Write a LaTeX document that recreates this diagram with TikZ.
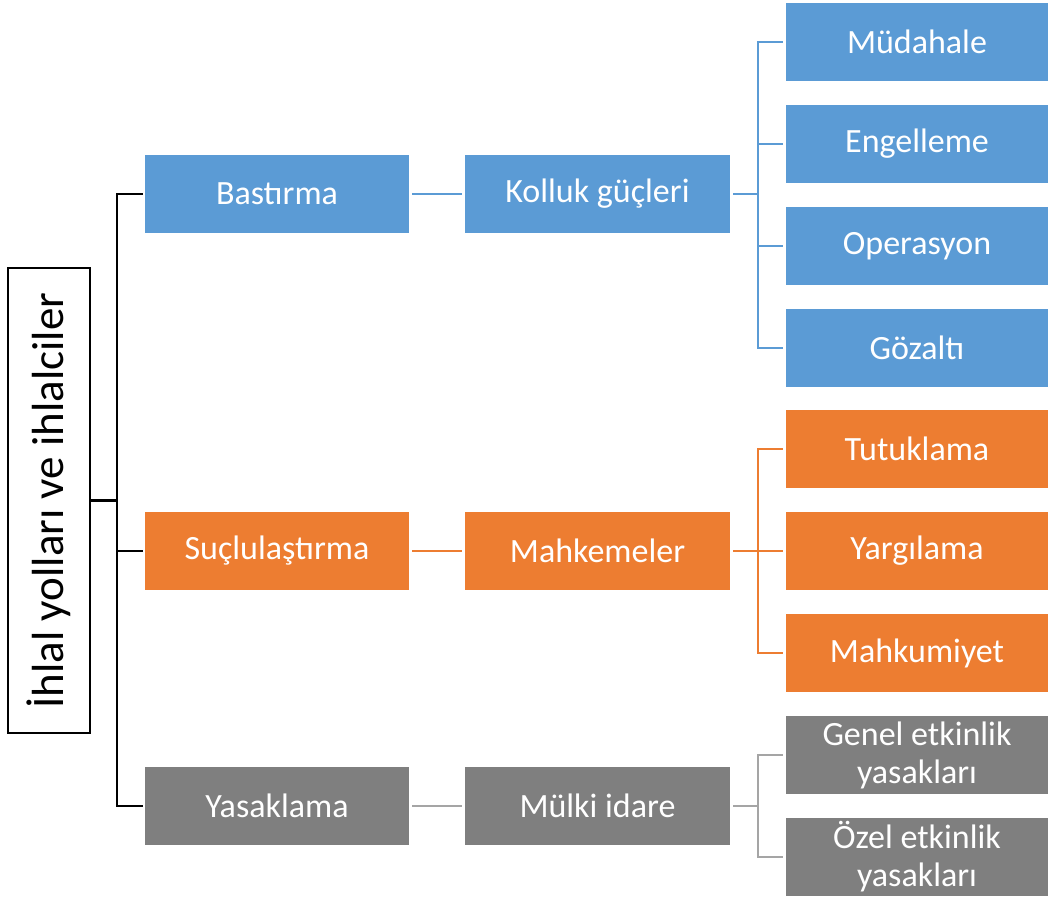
\documentclass[tikz,border=0pt]{standalone}
\usepackage{fontspec}
\setmainfont{Carlito}
\definecolor{cblue}{HTML}{5B9BD5}
\definecolor{corange}{HTML}{ED7D31}
\definecolor{cgray}{HTML}{7F7F7F}
\definecolor{clgray}{HTML}{A5A5A5}
\begin{document}
\begin{tikzpicture}[x=1pt,y=-1pt,
  box/.style={rectangle, inner sep=0pt, minimum height=78pt, text=white, align=center,
    font=\fontsize{34}{38}\selectfont},
  lone/.style={box, minimum width=264pt},
  ltwo/.style={box, minimum width=265pt},
  lthree/.style={box, minimum width=262pt},
  bl/.style={fill=cblue}, or/.style={fill=corange}, gr/.style={fill=cgray},
  conn/.style={line width=2pt, shorten <=3pt, shorten >=3pt},
  rootconn/.style={line width=2.2pt, black}]
\useasboundingbox (0,0) rectangle (1048,900);
% root
\node[draw=black, line width=2pt, minimum width=82pt, minimum height=465pt, inner sep=0pt] (root) at (49,500.5) {};
\node[rotate=90, font=\fontsize{45}{50}\selectfont] (roottext) at (root.center) {İhlal yolları ve ihlalciler};
% level 1
\node[lone,bl] (b1) at (277,194) {Bastırma};
\node[lone,or] (s1) at (277,551) {Suçlulaştırma};
\node[lone,gr] (y1) at (277,806) {Yasaklama};
% level 2
\node[ltwo,bl] (b2) at (597.5,194) {Kolluk güçleri};
\node[ltwo,or] (s2) at (597.5,551) {Mahkemeler};
\node[ltwo,gr] (y2) at (597.5,806) {Mülki idare};
% level 3
\node[lthree,bl] (c1) at (917,42) {Müdahale};
\node[lthree,bl] (c2) at (917,144) {Engelleme};
\node[lthree,bl] (c3) at (917,246) {Operasyon};
\node[lthree,bl] (c4) at (917,348) {Gözaltı};
\node[lthree,or] (d1) at (917,449) {Tutuklama};
\node[lthree,or] (d2) at (917,551) {Yargılama};
\node[lthree,or] (d3) at (917,653) {Mahkumiyet};
\node[lthree,gr] (e1) at (917,755) {Genel etkinlik\\yasakları};
\node[lthree,gr] (e2) at (917,857) {Özel etkinlik\\yasakları};
% root connectors
\coordinate (rj) at (117,500.5);
\draw[rootconn] (root.east) -- (rj);
\draw[rootconn, shorten >=2pt] (rj) |- (b1.west);
\draw[rootconn, shorten >=2pt] (rj) |- (y1.west);
\draw[rootconn, shorten >=2pt] (rj |- s1.west) -- (s1.west);
% level1 -> level2
\draw[conn, cblue] (b1) -- (b2);
\draw[conn, corange] (s1) -- (s2);
\draw[conn, clgray] (y1) -- (y2);
% level2 -> level3
\foreach \c in {c1,c2,c3,c4} \draw[conn, cblue] (b2.east) -- ++(28,0) |- (\c.west);
\foreach \c in {d1,d2,d3} \draw[conn, corange] (s2.east) -- ++(28,0) |- (\c.west);
\foreach \c in {e1,e2} \draw[conn, clgray] (y2.east) -- ++(28,0) |- (\c.west);
\end{tikzpicture}
\end{document}
